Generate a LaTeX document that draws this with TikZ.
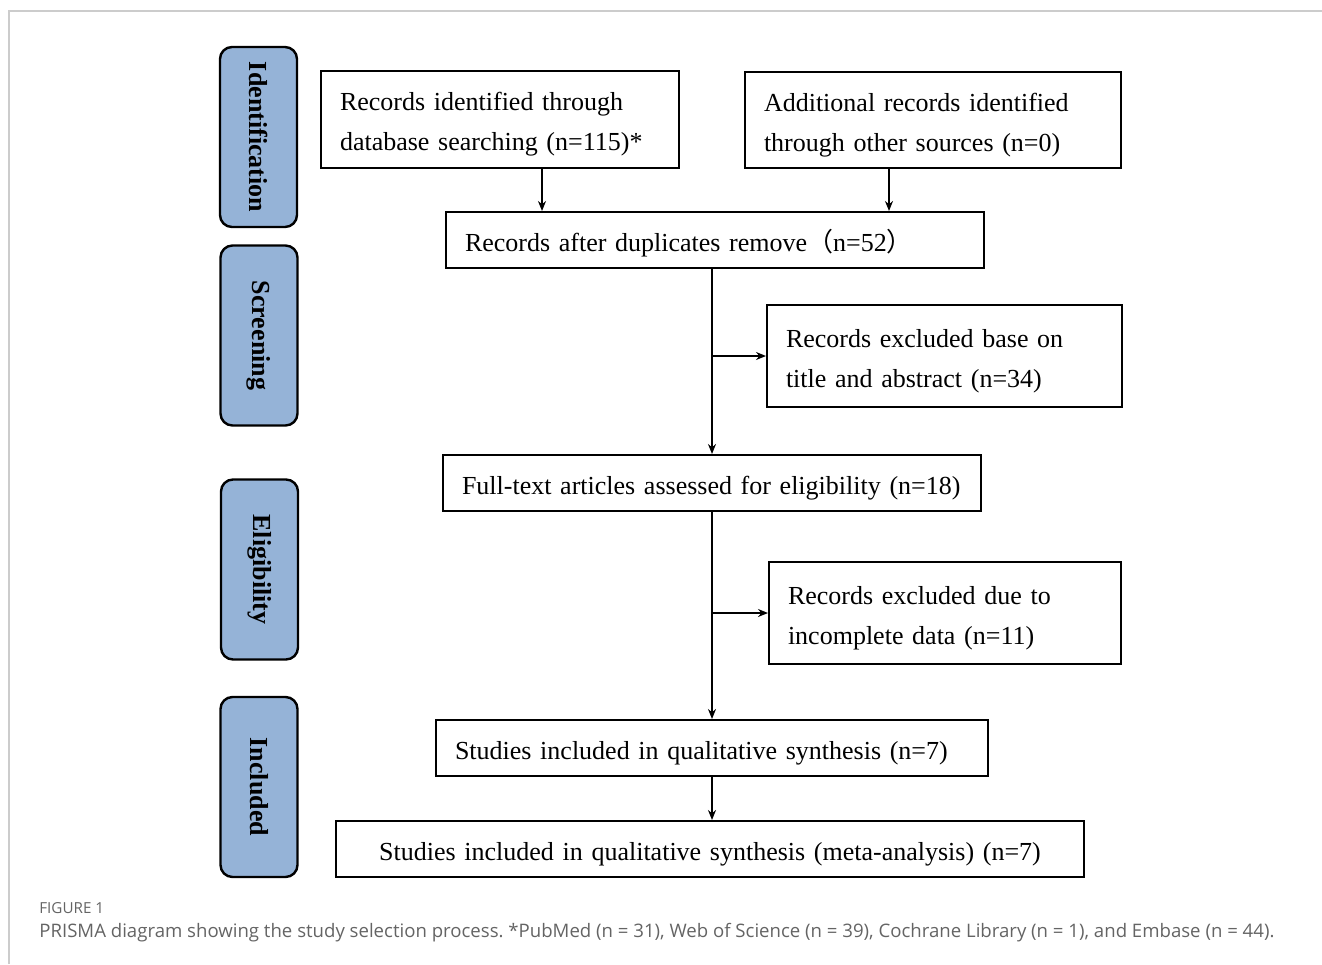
\documentclass[tikz,border=0pt]{standalone}
\usepackage{fontspec}
\setmainfont{Liberation Serif}
\newfontfamily\capfont{Open Sans}
\newfontfamily\cjkfont{Noto Sans CJK SC}
\usetikzlibrary{arrows.meta}
\definecolor{stagefill}{RGB}{149,179,215}
\definecolor{framegray}{RGB}{204,204,204}
\definecolor{capgray}{RGB}{100,100,100}
\frenchspacing

\begin{document}
\begin{tikzpicture}[x=0.5pt,y=-0.5pt,
        box/.style={draw,line width=1pt,inner xsep=9.5pt,inner ysep=0pt,align=left,font=\fontsize{13}{20}\selectfont},
        oneline/.style={text height=11.5pt,text depth=0.5pt},
        twoline/.style={text height=10.5pt,text depth=19.5pt},
        stage/.style={draw,line width=1.2pt,rounded corners=6pt,fill=stagefill,rotate=-90,minimum width=90pt,minimum height=38.5pt,inner sep=0pt,font=\fontsize{13}{15}\selectfont\bfseries},
        arr/.style={line width=0.8pt,-{Stealth[length=5pt,width=4pt]}}]
        \useasboundingbox (0,0) rectangle (1322,964);
        \draw [framegray,line width=0.6pt] (9,964) -- (9,11) -- (1322,11);

        \node [stage] (ident) at (258.5,137) {Identification};
        \node [stage] (screen) at (259,335.5) {Screening};
        \node [stage] (elig) at (259.5,569.5) {Eligibility};
        \node [stage] (incl) at (259,787) {Included};

        \node [box,twoline,text width=160pt,minimum height=48.5pt] (dbrec) at (500,119.5) {Records identified through\\database searching (n=115)*};
        \node [box,twoline,text width=169pt,minimum height=48pt] (otherrec) at (933,120) {Additional records identified\\through other sources (n=0)};
        \node [box,oneline,text width=250pt,minimum height=28pt] (dedup) at (715,240) {Records after duplicates remove{\cjkfont（}n=52{\cjkfont）}};
        \node [box,twoline,text width=158.5pt,minimum height=51pt] (excl1) at (944.5,356) {Records excluded base on\\title and abstract (n=34)};
        \node [box,oneline,text width=250pt,minimum height=28pt] (fulltext) at (712,483) {Full-text articles assessed for eligibility (n=18)};
        \node [box,twoline,text width=157pt,minimum height=51pt] (excl2) at (945,613) {Records excluded due to\\incomplete data (n=11)};
        \node [box,oneline,text width=257pt,minimum height=28pt] (qual) at (712,748) {Studies included in qualitative synthesis (n=7)};
        \node [box,oneline,text width=355pt,minimum height=28pt,align=center] (meta) at (710,849) {Studies included in qualitative synthesis (meta-analysis) (n=7)};

        \draw [arr] ([xshift=21pt]dbrec.south) -- ([xshift=21pt]dbrec.south |- dedup.north);
        \draw [arr] ([xshift=-22pt]otherrec.south) -- ([xshift=-22pt]otherrec.south |- dedup.north);
        \draw [arr] (dedup.south -| fulltext.north) -- (fulltext.north);
        \draw [arr] (fulltext.north |- excl1.west) -- (excl1.west);
        \draw [arr] (fulltext.south) -- (qual.north);
        \draw [arr] (qual.north |- excl2.west) -- (excl2.west);
        \draw [arr] (qual.south) -- (qual.south |- meta.north);

        \node [anchor=base west,inner sep=0pt,text=capgray,font=\capfont\fontsize{7.6}{9}\selectfont] (figlabel) at (39,913) {FIGURE 1};
        \node [anchor=base west,inner sep=0pt,text=capgray,font=\capfont\fontsize{9.3}{11}\selectfont] (caption) at (39,937) {PRISMA diagram showing the study selection process. *PubMed (n = 31), Web of Science (n = 39), Cochrane Library (n = 1), and Embase (n = 44).};
\end{tikzpicture}
\end{document}
